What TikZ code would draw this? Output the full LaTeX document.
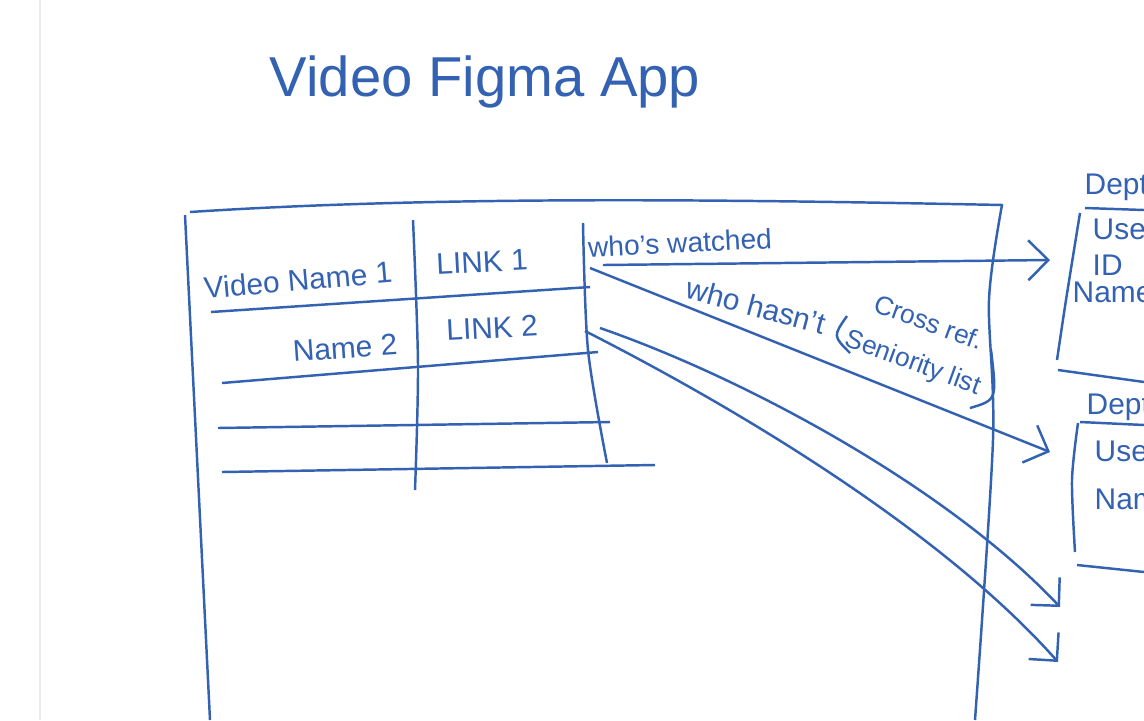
\documentclass[tikz,border=0pt]{standalone}
\usepackage{fontspec}
\setmainfont{Liberation Sans}
\usetikzlibrary{arrows.meta,positioning}
\definecolor{ink}{RGB}{52,98,178}

\begin{document}
\begin{tikzpicture}[x=0.1mm, y=-0.1mm, line width=0.7pt, color=ink]
    % Define styles
    \tikzstyle{hand} = [text=ink, font=\fontsize{8.5}{10}\selectfont, inner sep=1pt]
    \tikzstyle{arrow} = [-{Straight Barb[length=2mm,width=4mm]}]

    % Page and clipping
    \useasboundingbox (0,0) rectangle (1144,720);
    \fill[white] (0,0) rectangle (1144,720);
    \clip (0,0) rectangle (1144,720);
    \draw[gray!15, line width=0.5pt] (40,0) -- (40,720);

    % Title
    \node[hand, font=\fontsize{16}{20}\selectfont] (title) at (485,82) {Video Figma App};

    % Draw the outer frame
    \draw (190,212) .. controls (450,195) and (750,200) .. (1003,205);
    \draw (185,215) -- (210,720);
    \draw plot[smooth] coordinates {(1002,205) (989,300) (993,440) (975,720)};

    % Draw the table columns and rows
    \draw plot[smooth] coordinates {(413,220) (418,365) (415,490)};
    \draw plot[smooth] coordinates {(583,223) (588,350) (607,463)};
    \draw (211,312) -- (590,287);
    \draw (222,383) -- (598,352);
    \draw (218,428) -- (610,422);
    \draw (222,472) -- (655,465);

    % Table cells
    \node[hand, rotate=5] (name1) at (298,280) {Video Name 1};
    \node[hand, rotate=3] (link1) at (482,262) {LINK 1};
    \node[hand, rotate=4] (name2) at (345,348) {Name 2};
    \node[hand, rotate=3] (link2) at (492,328) {LINK 2};
    \node[hand, rotate=3, font=\fontsize{8}{10}\selectfont] (watched) at (680,243) {who's watched};

    % Right hand panels
    \node[hand, anchor=west] (dept1) at (1080,187) {Dept};
    \node[hand, anchor=west] (user1) at (1088,229) {User};
    \node[hand, below=0.6mm of user1.south west, anchor=north west] (id1) {ID};
    \node[hand, anchor=west] (nm1) at (1068,292) {Name};
    \draw (1085,208) -- (1144,210);
    \draw plot[smooth] coordinates {(1080,213) (1066,300) (1057,360)};
    \draw (1058,370) -- (1144,382);

    \node[hand, anchor=west] (dept2) at (1082,407) {Dept};
    \node[hand, anchor=west] (user2) at (1090,451) {User ID};
    \node[hand, below=1.8mm of user2.south west, anchor=north west] (nm2) {Name};
    \draw (1080,422) -- (1144,425);
    \draw plot[smooth] coordinates {(1078,423) (1072,480) (1075,552)};
    \draw (1077,565) -- (1144,572);

    % Arrow end points
    \coordinate (w0) at (603,265);
    \coordinate (w1) at (1050,260);
    \coordinate (h0) at (590,268);
    \coordinate (h1) at (1050,452);
    \coordinate (a0) at (600,328);
    \coordinate (a1) at (1060,607);
    \coordinate (b0) at (585,331);
    \coordinate (b1) at (1058,662);

    % Draw the arrows
    \draw[arrow] (w0) -- (w1);
    \draw[arrow] (h0) -- (h1);
    \draw[arrow] (a0) .. controls (750,380) and (950,490) .. (a1);
    \draw[arrow] (b0) .. controls (760,420) and (950,540) .. (b1);

    % Annotation on the second arrow
    \node[hand, rotate=-15] (hasnt) at (756,306) {who hasn't};
    \node[hand, rotate=-20, align=left, font=\fontsize{7.5}{12}\selectfont] (crossref) at (920,344) {\hspace{1.5mm}Cross ref.\\Seniority list};
    \draw (847,316) .. controls (833,336) .. (850,353);
    \draw (991,350) .. controls (997,400) .. (970,408);
\end{tikzpicture}
\end{document}
